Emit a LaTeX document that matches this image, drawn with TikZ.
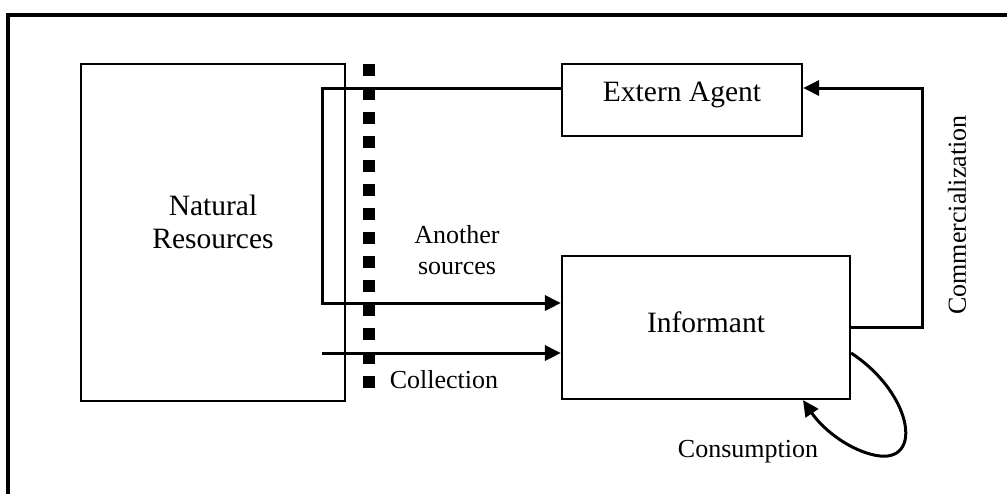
\documentclass[tikz,border=0pt]{standalone}
\usepackage{fontspec}
\setmainfont{Liberation Serif}
\usetikzlibrary{arrows.meta,calc}
\begin{document}
\begin{tikzpicture}[x=1pt,y=-1pt,
  box/.style={draw,line width=2.2pt,rectangle,inner sep=0pt},
  lbl/.style={font=\fontsize{26}{31}\selectfont,inner sep=0pt},
  big/.style={font=\fontsize{29.5}{33}\selectfont,inner sep=0pt},
  flow/.style={line width=3pt},
  tip/.style={-{Triangle[length=16pt,width=15pt]}}]
  \useasboundingbox (0,0) rectangle (1007,493);
  \clip (0,0) rectangle (1007,493);
  % page frame
  \draw[line width=3.2pt] (8,520) -- (8,15) -- (1012,15);
  % boxes
  \node[box,minimum width=264pt,minimum height=337pt] (nr) at (213,232.5) {};
  \node[big,align=center] (nrt) at (213,222) {Natural\\Resources};
  \node[box,minimum width=240pt,minimum height=72pt] (ea) at (682,100) {};
  \node[big] (eat) at (682,95) {Extern Agent};
  \node[box,minimum width=288pt,minimum height=143pt] (inf) at (706,327.5) {};
  \node[big] (inft) at (706,322) {Informant};
  % boundary of the natural area
  \draw[line width=12pt,dash pattern=on 12pt off 12pt] (369,64) -- (369,395);
  % other sources from the extern agent
  \coordinate (a1) at (322,88);
  \coordinate (a2) at (322,303);
  \draw[flow,tip] (ea.west |- a1) -- (a1) -- (a2) -- (inf.west |- a2);
  % collection
  \coordinate (c1) at (322,353);
  \draw[flow,tip] (c1) -- (inf.west |- c1);
  % commercialization
  \coordinate (k1) at (922,327);
  \coordinate (k2) at (922,88);
  \draw[flow,tip] (inf.east |- k1) -- (k1) -- (k2) -- (ea.east |- k2);
  % consumption loop
  \coordinate (s1) at (850,353);
  \coordinate (s2) at (803,401);
  \draw[flow,tip] (inf.east |- s1) .. controls (915,395) and (925,470) .. (870,454)
        .. controls (845,447) and (822,428) .. (inf.south -| s2);
  % labels
  \node[lbl,align=center] (ans) at (457,250) {Another\\sources};
  \node[lbl] (col) at (444,380) {Collection};
  \node[lbl,rotate=90] (com) at (957,215) {Commercialization};
  \node[lbl] (con) at (748,452) {Consumption};
\end{tikzpicture}
\end{document}
